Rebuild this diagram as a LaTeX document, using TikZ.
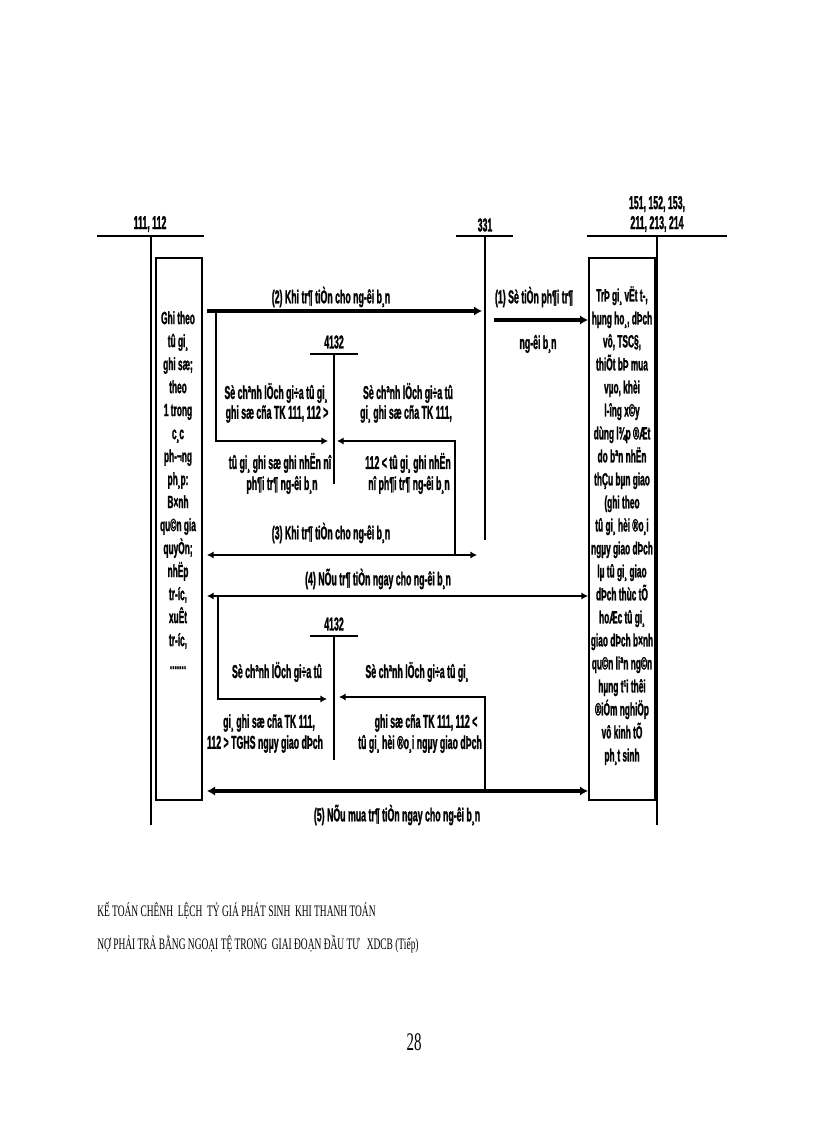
\documentclass[tikz,border=0pt]{standalone}
\usepackage{fontspec}
\newfontfamily\diagfont[FakeStretch=0.47,FakeBold=1.2]{Liberation Sans}
\newfontfamily\capfont[FakeStretch=0.59]{Liberation Serif}
\usetikzlibrary{arrows.meta}

\tikzset{
  lbl/.style={font=\diagfont\bfseries\fontsize{14}{16}\selectfont,inner sep=0pt},
  boxtext/.style={font=\diagfont\bfseries\fontsize{13.3}{17.25}\selectfont,align=center,inner sep=0pt},
  frame/.style={draw,line width=1.5pt,inner sep=0pt},
  tline/.style={line width=1.8pt},
  vline/.style={line width=1pt},
  heavy/.style={line width=3pt,-{Latex[length=6pt,width=7pt]}},
  heavyboth/.style={line width=3pt,{Latex[length=6pt,width=7pt]}-{Latex[length=6pt,width=7pt]}},
  light/.style={line width=1.5pt,-{Latex[length=5pt,width=5.5pt]}},
  lightboth/.style={line width=1.5pt,{Latex[length=5pt,width=5.5pt]}-{Latex[length=5pt,width=5.5pt]}},
  captext/.style={font=\capfont\fontsize{12}{14}\selectfont,inner sep=0pt}
}

\begin{document}
\begin{tikzpicture}[x=0.75pt,y=-0.75pt]
\useasboundingbox (0,0) rectangle (816,1123);

% tai khoan chu T
\begin{scope}[every node/.style={lbl}]
  \node (tk111) at (150,224) {111, 112};
  \node (tk331) at (485,225) {331};
  \node (tk151a) at (657,204) {151, 152, 153,};
  \node (tk151b) at (657,224) {211, 213, 214};
  \node (tkA) at (334,342) {4132};
  \node (tkB) at (334,624) {4132};
\end{scope}

\draw[tline] (97,236) -- (204,236);
\draw[vline] (151,236) -- (151,825);
\draw[tline] (456,236) -- (513,236);
\draw[vline] (485,236) -- (485,540);
\draw[tline] (587,236) -- (727,236);
\draw[vline] (657,236) -- (657,825);
\draw[line width=1.2pt] (310,354) -- (358,354);
\draw[vline] (334,354) -- (334,484);
\draw[line width=1.2pt] (310,636) -- (358,636);
\draw[vline] (334,636) -- (334,760);

% hai khung
\node[frame,minimum width=34.5pt,minimum height=406.5pt] (box111) at (179,529) {};
\node[frame,minimum width=49.5pt,minimum height=406.5pt] (box151) at (621.5,529) {};

\node[boxtext,anchor=north] (txt111) at (178,311) {Ghi theo\\tû gi¸\\ghi sæ;\\theo\\1 trong\\c¸c\\ph-¬ng\\ph¸p:\\B×nh\\qu©n gia\\quyÒn;\\nhËp\\tr-íc,\\xuÊt\\tr-íc,\\.......};
\node[boxtext,anchor=north] (txt151) at (622,286) {TrÞ gi¸ vËt t-,\\hµng ho¸, dÞch\\vô, TSC§,\\thiÕt bÞ mua\\vµo, khèi\\l-îng x©y\\dùng l¾p ®Æt\\do bªn nhËn\\thÇu bµn giao\\(ghi theo\\tû gi¸ hèi ®o¸i\\ngµy giao dÞch\\lµ tû gi¸ giao\\dÞch thùc tÕ\\hoÆc tû gi¸\\giao dÞch b×nh\\qu©n liªn ng©n\\hµng t¹i thêi\\®iÓm nghiÖp\\vô kinh tÕ\\ph¸t sinh};

% nhan
\begin{scope}[every node/.style={lbl}]
  \node (l2) at (331,297) {(2) Khi tr¶ tiÒn cho ng-êi b¸n};
  \node (l1a) at (534,297) {(1) Sè tiÒn ph¶i tr¶};
  \node (l1b) at (538,344) {ng-êi b¸n};
  \node (ula) at (276,393) {Sè chªnh lÖch gi÷a tû gi¸};
  \node (ulb) at (277,414) {ghi sæ cña TK 111, 112 >};
  \node (ulc) at (280,463) {tû gi¸ ghi sæ ghi nhËn nî};
  \node (uld) at (282,485) {ph¶i tr¶ ng-êi b¸n};
  \node (ura) at (408,393) {Sè chªnh lÖch gi÷a tû};
  \node (urb) at (406,414) {gi¸ ghi sæ cña TK 111,};
  \node (urc) at (408,463) {112 < tû gi¸ ghi nhËn};
  \node (urd) at (409,485) {nî ph¶i tr¶ ng-êi b¸n};
  \node (l3) at (331,533) {(3) Khi tr¶ tiÒn cho ng-êi b¸n};
  \node (l4) at (378,579) {(4) NÕu tr¶ tiÒn ngay cho ng-êi b¸n};
  \node (lla) at (277,672) {Sè chªnh lÖch gi÷a tû};
  \node (llb) at (269,723) {gi¸ ghi sæ cña TK 111,};
  \node (llc) at (265,744) {112 > TGHS ngµy giao dÞch};
  \node (lra) at (417,672) {Sè chªnh lÖch gi÷a tû gi¸};
  \node (lrb) at (426,723) {ghi sæ cña TK 111, 112 <};
  \node (lrc) at (420,744) {tû gi¸ hèi ®o¸i ngµy giao dÞch};
  \node (l5) at (397,815) {(5) NÕu mua tr¶ tiÒn ngay cho ng-êi b¸n};
\end{scope}

% diem dau, diem cuoi
\coordinate (p2a) at (207,311);
\coordinate (p2b) at (482,311);
\coordinate (p1a) at (494,320);
\coordinate (p1b) at (588,320);
\coordinate (d1a) at (216,311);
\coordinate (d1b) at (328,441);
\coordinate (r1a) at (455,555);
\coordinate (r1b) at (337,441);
\coordinate (p3a) at (207,555);
\coordinate (p3b) at (477,555);
\coordinate (p4a) at (207,596);
\coordinate (p4b) at (588,596);
\coordinate (d2a) at (218,596);
\coordinate (d2b) at (327,699);
\coordinate (r2a) at (485,791);
\coordinate (r2b) at (339,697);
\coordinate (p5a) at (207,791);
\coordinate (p5b) at (588,791);

\draw[heavy] (p2a) -- (p2b);
\draw[heavy] (p1a) -- (p1b);
\draw[light] (d1a) |- (d1b);
\draw[light,line width=2.2pt] (r1a) |- (r1b);
\draw[lightboth] (p3a) -- (p3b);
\draw[lightboth,line width=2.2pt] (p4a) -- (p4b);
\draw[light] (d2a) |- (d2b);
\draw[light,line width=1.8pt] (r2a) |- (r2b);
\draw[heavyboth] (p5a) -- (p5b);

% chu thich
\node[captext,anchor=base west] (cap1) at (97,916) {KẾ TOÁN CHÊNH\ \ LỆCH\ \ TỶ GIÁ PHÁT SINH\ \ KHI THANH TOÁN};
\node[captext,anchor=base west] (cap2) at (97,949) {NỢ PHẢI TRẢ BẰNG NGOẠI TỆ TRONG\ \ GIAI ĐOẠN ĐẦU TƯ\ \ \ XDCB (Tiếp)};
\node[captext,font=\capfont\fontsize{19}{21}\selectfont] (page) at (414,1042) {28};
\end{tikzpicture}
\end{document}
